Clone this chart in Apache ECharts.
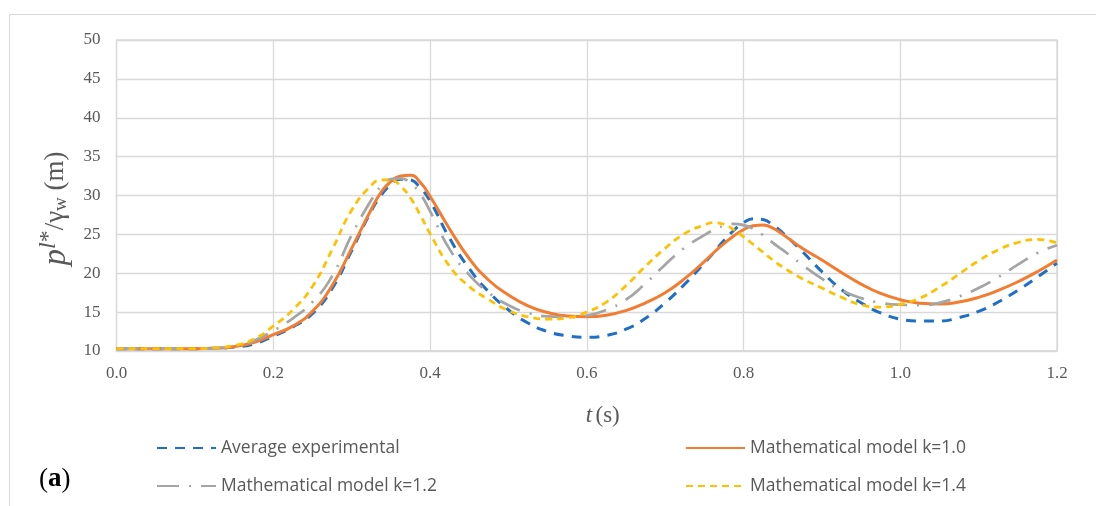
<!DOCTYPE html>
<html>
<head>
<meta charset="utf-8">
<script src="https://cdn.jsdelivr.net/npm/echarts@6/dist/echarts.min.js"></script>
<style>
html,body{margin:0;padding:0;background:#fff;}
#chart{width:1096px;height:506px;}
</style>
</head>
<body>
<div id="chart"></div>
<script>
// time (s)
var tValues = [0, 0.05, 0.1, 0.125, 0.15, 0.175,
  0.2, 0.225, 0.25, 0.275, 0.3, 0.325,
  0.3375, 0.35, 0.3625, 0.375, 0.3875, 0.4,
  0.425, 0.45, 0.475, 0.5, 0.525, 0.55, 0.575, 0.6, 0.625, 0.65, 0.675, 0.7, 0.725, 0.75,
  0.7625, 0.775, 0.7875, 0.8, 0.8125, 0.825, 0.8375, 0.85,
  0.875, 0.9, 0.925, 0.95, 0.975, 1.0, 1.025, 1.05, 1.075, 1.1, 1.125, 1.15, 1.175, 1.2];
var avgExperimental = [10.3, 10.3, 10.3, 10.35, 10.5, 10.9,
  11.9, 13.1, 14.8, 18.0, 22.9, 28.0,
  30.0, 31.4, 32.1, 32.0, 31.0, 29.3,
  24.5, 20.6, 17.6, 15.3, 13.6, 12.5, 11.95, 11.76, 12.0, 12.8, 14.2, 16.2, 18.6, 21.3,
  22.7, 24.2, 25.5, 26.5, 27.0, 26.9, 26.2, 25.2,
  22.8, 20.2, 17.9, 16.2, 14.9, 14.1, 13.85, 13.85, 14.3, 15.1, 16.3, 17.8, 19.5, 21.3];
var modelK10 = [10.3, 10.3, 10.3, 10.35, 10.55, 11.1,
  12.1, 13.2, 15.1, 18.4, 23.2, 28.2,
  30.4, 31.8, 32.5, 32.6, 31.7, 29.9,
  25.7, 21.9, 19.1, 17.2, 15.8, 14.95, 14.5, 14.4, 14.6, 15.2, 16.2, 17.5, 19.3, 21.5,
  22.7, 23.8, 24.8, 25.6, 26.1, 26.2, 25.8, 25.0,
  23.2, 21.7, 20.1, 18.6, 17.4, 16.6, 16.15, 16.05, 16.3, 16.9, 17.8, 18.9, 20.2, 21.7];
var modelK12 = [10.3, 10.3, 10.3, 10.35, 10.6, 11.3,
  12.6, 14.2, 16.3, 19.6, 24.9, 29.4,
  31.2, 32.1, 32.2, 31.6, 30.2, 28.0,
  23.1, 19.8, 17.5, 15.9, 14.9, 14.45, 14.35, 14.55, 15.3, 16.6, 18.7, 21.1, 23.3, 24.9,
  25.6, 26.1, 26.35, 26.2, 25.7, 24.9, 23.9, 23.0,
  21.1, 19.3, 17.8, 16.8, 16.2, 15.95, 15.9, 16.2, 17.0, 18.1, 19.5, 21.1, 22.6, 23.6];
var modelK14 = [10.3, 10.3, 10.3, 10.4, 10.7, 11.5,
  13.2, 15.3, 18.3, 23.0, 28.1, 31.3,
  32.0, 32.0, 31.2, 29.7, 27.5, 25.1,
  20.9, 18.3, 16.6, 15.2, 14.4, 14.1, 14.25, 15.0, 16.3, 18.4, 20.9, 23.2, 25.1, 26.2,
  26.5, 26.3, 25.6, 24.7, 23.7, 22.7, 21.7, 20.8,
  19.3, 18.1, 16.9, 15.95, 15.65, 16.0, 16.8, 18.2, 19.9, 21.6, 23.0, 23.95, 24.35, 23.9];
var seriesNames = ['Average experimental', 'Mathematical model k=1.0', 'Mathematical model k=1.2', 'Mathematical model k=1.4'];
var xTicks = [0, 0.2, 0.4, 0.6, 0.8, 1.0, 1.2];
var yTicks = [10, 15, 20, 25, 30, 35, 40, 45, 50];

function pairs(vals){ return tValues.map(function(t,i){ return [t, vals[i]]; }); }

var chart = echarts.init(document.getElementById('chart'), null, {renderer:'canvas'});
var serif = '"Liberation Serif", "DejaVu Serif", serif';
var sans = '"Open Sans", "Liberation Sans", sans-serif';
var gridColor = '#d9d9d9';

function mkSeries(name, vals, color, width, type){
  return {
    name: name, type: 'line', data: pairs(vals), smooth: 0.5, symbol: 'none',
    lineStyle: {color: color, width: width, type: type},
    itemStyle: {color: color},
    z: 3
  };
}

var legendCommon = {orient: 'vertical', itemGap: 20, itemWidth: 59, itemHeight: 14, padding: 0,
  itemStyle: {opacity: 0},
  textStyle: {color:'#595959', fontSize: 17.5, fontFamily: sans}};

var option = {
  backgroundColor: '#fff',
  animation: false,
  graphic: [
    {type:'rect', shape:{x:9.5, y:14.5, width:1100, height:520}, style:{fill:'none', stroke:'#d9d9d9', lineWidth:1}, silent:true, z:-10},
    {type:'rect', shape:{x:116.5, y:40, width:940.5, height:311}, style:{fill:'none', stroke:gridColor, lineWidth:1.3}, silent:true, z:-1},
    {type:'text', left: 39, top: 466, style:{
      text:'{p|(}{b|a}{p|)}',
      rich: {p:{fontFamily: serif, fontSize: 27, fill:'#000'}, b:{fontFamily: serif, fontSize: 27, fontWeight:'bold', fill:'#000'}}
    }}
  ],
  grid: {left: 116.5, right: 39, top: 40, bottom: 155},
  legend: [
    Object.assign({left: 156, top: 439, data: [seriesNames[0], seriesNames[2]]}, legendCommon),
    Object.assign({left: 685, top: 439, data: [seriesNames[1], seriesNames[3]]}, legendCommon)
  ],
  xAxis: {
    type: 'value', min: 0, max: 1.2, interval: 0.2,
    name: '{i|t} {n|(s)}', nameLocation: 'middle', nameGap: 53,
    nameTextStyle: {padding: [0, 0, 0, 32], rich: {i:{fontStyle:'italic', fontFamily: serif, fontSize: 23, color:'#595959'}, n:{fontFamily: serif, fontSize: 23, color:'#595959'}}},
    axisLine: {show: true, lineStyle: {color: gridColor, width: 1.5}},
    axisTick: {show: false},
    splitLine: {show: true, lineStyle: {color: gridColor, width: 1.3}},
    axisLabel: {margin: 14, color:'#595959', fontFamily: serif, fontSize: 17,
      formatter: function(v){ return v.toFixed(1); }}
  },
  yAxis: {
    type: 'value', min: 10, max: 50, interval: 5,
    name: '{i|p}{sup|l}{supn|*}{n|/γ}{sub|w}{n| (m)}', nameLocation: 'middle', nameGap: 33,
    nameTextStyle: {padding: [0, 26, 0, 0], rich: {
      i:{fontStyle:'italic', fontFamily: serif, fontSize: 33, color:'#595959'},
      sup:{fontStyle:'italic', fontFamily: serif, fontSize: 24, color:'#595959', padding:[0,0,15,0]},
      supn:{fontFamily: serif, fontSize: 24, color:'#595959', padding:[0,0,15,0]},
      n:{fontFamily: serif, fontSize: 27, color:'#595959'},
      sub:{fontFamily: serif, fontSize: 19, color:'#595959', padding:[10,0,0,0]}
    }},
    axisLine: {show: false},
    axisTick: {show: false},
    splitLine: {show: true, lineStyle: {color: gridColor, width: 1.3}},
    axisLabel: {margin: 16, color:'#595959', fontFamily: serif, fontSize: 17}
  },
  series: [
    mkSeries(seriesNames[0], avgExperimental, '#1f6fc6', 3, [10, 8]),
    mkSeries(seriesNames[1], modelK10, '#f47c30', 3, 'solid'),
    mkSeries(seriesNames[2], modelK12, '#a5a5a5', 2.75, [22, 10, 2, 10]),
    mkSeries(seriesNames[3], modelK14, '#ffc000', 2.75, [7, 5])
  ]
};
chart.setOption(option);
</script>
</body>
</html>
